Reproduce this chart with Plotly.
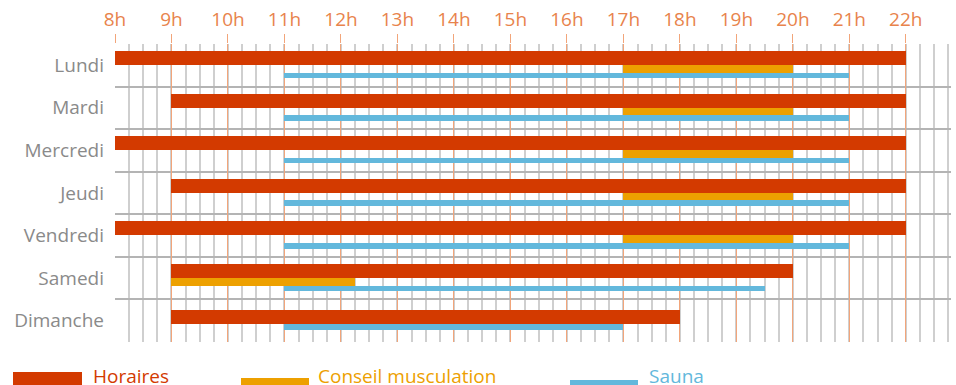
import plotly.graph_objects as go

# ---------------- data ----------------
days = ["Lundi", "Mardi", "Mercredi", "Jeudi", "Vendredi", "Samedi", "Dimanche"]
horaires_start = [8, 9, 8, 9, 8, 9, 9]
horaires_end = [22, 22, 22, 22, 22, 20, 18]
conseil_start = [17, 17, 17, 17, 17, 9, None]
conseil_end = [20, 20, 20, 20, 20, 12.25, None]
sauna_start = [11, 11, 11, 11, 11, 11, 11]
sauna_end = [21, 21, 21, 21, 21, 19.5, 17]
hours = list(range(8, 23))
hour_labels = [f"{h}h" for h in hours]
series_names = ["Horaires", "Conseil musculation", "Sauna"]

# ---------------- style ----------------
RED = "#d33a00"
ORANGE = "#eda000"
BLUE = "#63b8dc"
TICK_ORANGE = "#e8834c"
GRID_ORANGE = "#f2a57a"
FONT = "Open Sans"

W, H = 956, 385
ML, MR, MT, MB = 115, 5, 44, 43
PW, PH = W - ML - MR, H - MT - MB
ROW = PH / len(days)

def fr(px):
    return px / ROW

# per-row vertical placement (fraction of row, 0 = top)
red_y, red_w, or_y, or_w, bl_y, bl_w = [], fr(14), [], fr(8), [], fr(5.5)
for i in range(len(days)):
    has_c = conseil_start[i] is not None
    red_y.append(i + (fr(14) if has_c else fr(18)))
    or_y.append(i + fr(25))
    bl_y.append(i + (fr(31.5) if has_c else fr(27.5)))

fig = go.Figure()
fig.add_trace(go.Bar(
    orientation="h", y=red_y, base=horaires_start,
    x=[e - s for s, e in zip(horaires_start, horaires_end)],
    width=red_w, marker=dict(color=RED, line=dict(width=0)), name=series_names[0]))
ci = [i for i in range(len(days)) if conseil_start[i] is not None]
fig.add_trace(go.Bar(
    orientation="h", y=[or_y[i] for i in ci], base=[conseil_start[i] for i in ci],
    x=[conseil_end[i] - conseil_start[i] for i in ci],
    width=or_w, marker=dict(color=ORANGE, line=dict(width=0)), name=series_names[1]))
fig.add_trace(go.Bar(
    orientation="h", y=bl_y, base=sauna_start,
    x=[e - s for s, e in zip(sauna_start, sauna_end)],
    width=bl_w, marker=dict(color=BLUE, line=dict(width=0)), name=series_names[2]))

fig.update_layout(
    width=W, height=H, margin=dict(l=ML, r=MR, t=MT, b=MB),
    paper_bgcolor="white", plot_bgcolor="white",
    barmode="overlay", showlegend=False, bargap=0,
    font=dict(family=FONT),
    xaxis=dict(
        side="top", range=[8, 22.8], tickmode="array", tickvals=hours, ticktext=hour_labels,
        ticks="outside", ticklen=9, tickwidth=1, tickcolor=GRID_ORANGE,
        tickfont=dict(family=FONT, size=19, color=TICK_ORANGE),
        showgrid=True, gridcolor=GRID_ORANGE, gridwidth=1,
        minor=dict(tick0=8, dtick=0.25, showgrid=True, gridcolor="#cfcfcf", gridwidth=1.5),
        zeroline=False, showline=False, fixedrange=True,
    ),
    yaxis=dict(
        range=[len(days) - 0.001, 0.001], tickmode="array",
        tickvals=[i + 0.5 for i in range(len(days))], ticktext=days,
        ticks="", showgrid=False, ticklabelstandoff=10,
        tickfont=dict(family=FONT, size=19, color="#8a8a8a"),
        minor=dict(tickmode="array", tickvals=list(range(1, len(days))), showgrid=True,
                   gridcolor="#b4b4b4", gridwidth=2),
        zeroline=False, showline=False, fixedrange=True,
    ),
)

# ---------------- custom legend ----------------
def px_x(px):
    return (px - ML) / PW

def px_y(py):
    return (MT + PH - py) / PH

legend_items = [
    (series_names[0], RED, 13, 82, 372, 386, 91),
    (series_names[1], ORANGE, 241, 309, 378, 386, 316),
    (series_names[2], BLUE, 570, 638, 380, 386, 647),
]
for name, col, x0, x1, y0, y1, tx in legend_items:
    fig.add_shape(type="rect", xref="paper", yref="paper",
                  x0=px_x(x0), x1=px_x(x1), y0=px_y(y1), y1=px_y(y0),
                  fillcolor=col, line=dict(width=0), layer="above")
    fig.add_annotation(xref="paper", yref="paper", x=px_x(tx), y=px_y(361),
                       xanchor="left", yanchor="top", showarrow=False,
                       text=name, font=dict(family=FONT, size=19, color=col))

fig.write_html("out.html")
